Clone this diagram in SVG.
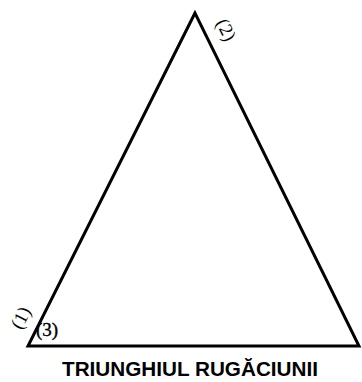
<svg xmlns="http://www.w3.org/2000/svg" width="362" height="382" viewBox="0 0 362 382">
<style>
.edge{fill:none;stroke:#000;stroke-width:3;stroke-linejoin:miter}
.lbl{font-family:"Liberation Serif",serif;font-size:19px;fill:#000;text-anchor:middle}
.title{font-family:"Liberation Sans",Arial,sans-serif;font-size:21px;font-weight:bold;fill:#000}
</style>
<rect width="362" height="382" fill="#fff"/>
<g id="connectors">
<polygon class="edge" points="195,13 28,346 359,346"/>
</g>
<g id="vertex2"><text class="lbl" transform="translate(226,30) rotate(63)" y="6">(2)</text></g>
<g id="vertex1"><text class="lbl" transform="translate(21,318) rotate(-63)" y="6">(1)</text></g>
<g id="vertex3"><text class="lbl" x="47" y="336" stroke="#000" stroke-width="0.4">(3)</text></g>
<g id="title"><text class="title" x="190" y="376" text-anchor="middle" textLength="256" lengthAdjust="spacingAndGlyphs">TRIUNGHIUL RUGĂCIUNII</text></g>
</svg>
